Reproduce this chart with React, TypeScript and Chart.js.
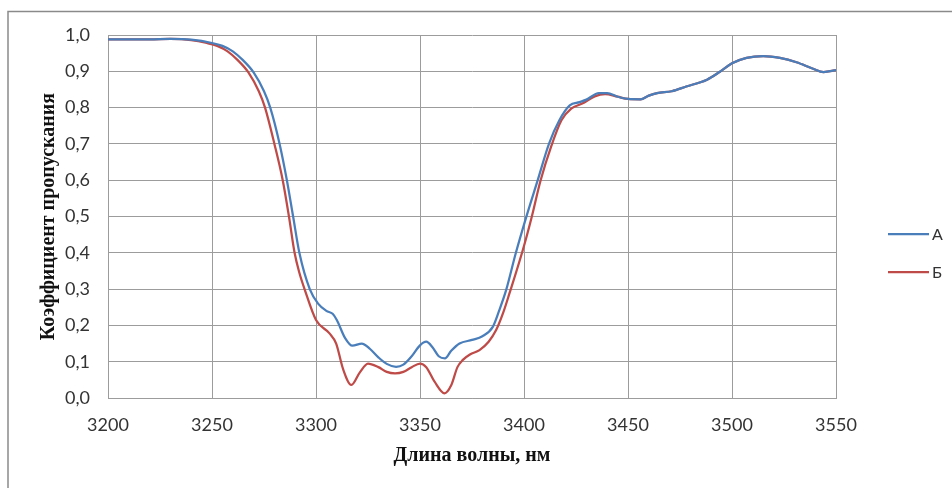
import React, { useEffect, useRef } from "react";
import { Chart, registerables } from "chart.js";

Chart.register(...registerables);

const seriesNames = ["А", "Б"];

const wavelengthA = [
  3200, 3210, 3220, 3230, 3240, 3250, 3255, 3260, 3265, 3270, 3275, 3278, 3282.5, 3286, 3289, 3292,
  3297, 3301, 3305, 3308, 3310, 3314, 3317.5, 3322, 3326, 3330, 3334, 3338.5, 3342, 3346, 3350, 3353,
  3356, 3359, 3362, 3365, 3369, 3375, 3380, 3385, 3388, 3391.4, 3396, 3401, 3406.6, 3412, 3417, 3422,
  3426.7, 3430, 3436, 3440, 3445, 3450, 3456, 3460, 3464, 3471, 3478, 3488, 3494, 3500, 3507, 3515,
  3523, 3531, 3539, 3544, 3550,
];
const transmissionA = [
  0.988, 0.988, 0.988, 0.989, 0.987, 0.978, 0.97, 0.955, 0.93, 0.897, 0.845, 0.8, 0.7, 0.6, 0.5, 0.4,
  0.3, 0.26, 0.24, 0.232, 0.215, 0.165, 0.144, 0.15, 0.135, 0.112, 0.094, 0.086, 0.092, 0.115, 0.145, 0.155,
  0.14, 0.115, 0.109, 0.13, 0.15, 0.16, 0.17, 0.196, 0.24, 0.297, 0.398, 0.497, 0.6, 0.7, 0.765, 0.806,
  0.815, 0.822, 0.84, 0.84, 0.83, 0.824, 0.823, 0.833, 0.84, 0.845, 0.858, 0.877, 0.898, 0.922, 0.937, 0.942,
  0.937, 0.925, 0.907, 0.898, 0.903,
];

const wavelengthB = [
  3200, 3210, 3220, 3230, 3240, 3247.5, 3252.5, 3257.5, 3262.5, 3267.5, 3272.5, 3275.5, 3280, 3284, 3287, 3289.7,
  3292, 3294.5, 3300, 3306.5, 3309.7, 3313, 3317, 3321, 3325, 3330, 3334, 3338, 3342, 3346, 3350, 3353, 3357,
  3361.8, 3365, 3368, 3370.6, 3374, 3378.6, 3383, 3386.6, 3390, 3393, 3399.4, 3403.5, 3408, 3413, 3418,
  3422.7, 3428, 3434, 3439, 3445, 3450, 3456, 3460, 3464, 3471, 3478, 3488, 3494, 3500, 3507, 3515,
  3523, 3531, 3539, 3544, 3550,
];
const transmissionB = [
  0.988, 0.988, 0.988, 0.989, 0.986, 0.978, 0.97, 0.955, 0.93, 0.897, 0.845, 0.8, 0.7, 0.6, 0.5, 0.4,
  0.345, 0.3, 0.215, 0.178, 0.15, 0.08, 0.036, 0.07, 0.095, 0.085, 0.072, 0.068, 0.072, 0.085, 0.095, 0.085, 0.045,
  0.013, 0.035, 0.085, 0.105, 0.12, 0.132, 0.155, 0.187, 0.235, 0.288, 0.407, 0.494, 0.6, 0.692, 0.765,
  0.797, 0.811, 0.831, 0.837, 0.83, 0.824, 0.823, 0.833, 0.84, 0.845, 0.858, 0.877, 0.898, 0.922, 0.937, 0.942,
  0.937, 0.925, 0.907, 0.898, 0.903,
];

const xTitle = "Длина волны, нм";
const yTitle = "Коэффициент пропускания";
const colors = ["#4a7ebb", "#be4b48"];

const toPoints = (xs: number[], ys: number[]) => xs.map((x, i) => ({ x, y: ys[i] }));

const framePlugin = {
  id: "frame",
  beforeDraw(chart: any) {
    const ctx = chart.ctx;
    ctx.save();
    ctx.fillStyle = "#ffffff";
    ctx.fillRect(0, 0, chart.width, chart.height);
    ctx.strokeStyle = "#8a8a8a";
    ctx.lineWidth = 1.5;
    ctx.beginPath();
    ctx.moveTo(8, chart.height);
    ctx.lineTo(8, 11.5);
    ctx.lineTo(chart.width, 11.5);
    ctx.stroke();
    ctx.restore();
  },
};

const legendPlugin = {
  id: "sideLegend",
  afterDraw(chart: any) {
    const ctx = chart.ctx;
    ctx.save();
    chart.data.datasets.forEach((ds: any, i: number) => {
      const y = 234 + i * 38;
      ctx.strokeStyle = ds.borderColor;
      ctx.lineWidth = 2.25;
      ctx.beginPath();
      ctx.moveTo(888, y);
      ctx.lineTo(929, y);
      ctx.stroke();
      ctx.fillStyle = "#333333";
      ctx.font = "16px Lato";
      ctx.textBaseline = "middle";
      ctx.textAlign = "left";
      ctx.fillText(ds.label, 932, y + 1);
    });
    ctx.restore();
  },
};

export default function App() {
  const ref = useRef<HTMLCanvasElement | null>(null);

  useEffect(() => {
    if (!ref.current) return;
    const gridColor = "#9c9c9c";
    const chart = new Chart(ref.current, {
      type: "line",
      data: {
        datasets: [
          {
            label: seriesNames[0],
            data: toPoints(wavelengthA, transmissionA),
            borderColor: colors[0],
            backgroundColor: colors[0],
            borderWidth: 2.25,
            pointRadius: 0,
            cubicInterpolationMode: "monotone",
          },
          {
            label: seriesNames[1],
            data: toPoints(wavelengthB, transmissionB),
            borderColor: colors[1],
            backgroundColor: colors[1],
            borderWidth: 2.25,
            pointRadius: 0,
            cubicInterpolationMode: "monotone",
          },
        ],
      },
      options: {
        animation: false,
        responsive: false,
        layout: { padding: { top: 35, left: 0, right: 116, bottom: 0 } },
        plugins: { legend: { display: false }, tooltip: { enabled: false } },
        scales: {
          x: {
            type: "linear",
            min: 3200,
            max: 3550,
            afterFit: (s: any) => {
              s.height = 90;
            },
            ticks: {
              stepSize: 50,
              padding: 16,
              color: "#333333",
              font: { family: "Lato", size: 18 },
              callback: (v: any) => String(v),
            },
            grid: { color: gridColor, drawTicks: false, lineWidth: 1 },
            border: { color: gridColor, width: 1 },
            title: {
              display: true,
              text: xTitle,
              color: "#111111",
              font: { family: "Liberation Serif", size: 20, weight: "bold" },
              padding: { top: 0, bottom: 20 },
            },
          },
          y: {
            min: 0,
            max: 1,
            afterFit: (s: any) => {
              s.width = 108;
            },
            ticks: {
              stepSize: 0.1,
              padding: 18,
              color: "#333333",
              font: { family: "Lato", size: 18 },
              callback: (v: any) => Number(v).toFixed(1).replace(".", ","),
            },
            grid: { color: gridColor, drawTicks: false, lineWidth: 1 },
            border: { color: gridColor, width: 1 },
            title: {
              display: true,
              text: yTitle,
              color: "#111111",
              font: { family: "Liberation Serif", size: 20, weight: "bold" },
              padding: { top: 37, bottom: 0 },
            },
          },
        },
      },
      plugins: [framePlugin, legendPlugin],
    } as any);
    return () => chart.destroy();
  }, []);

  return (
    <div style={{ position: "fixed", left: 0, top: 0, width: 952, height: 488 }}>
      <canvas ref={ref} width={952} height={488} style={{ width: 952, height: 488 }} />
    </div>
  );
}
